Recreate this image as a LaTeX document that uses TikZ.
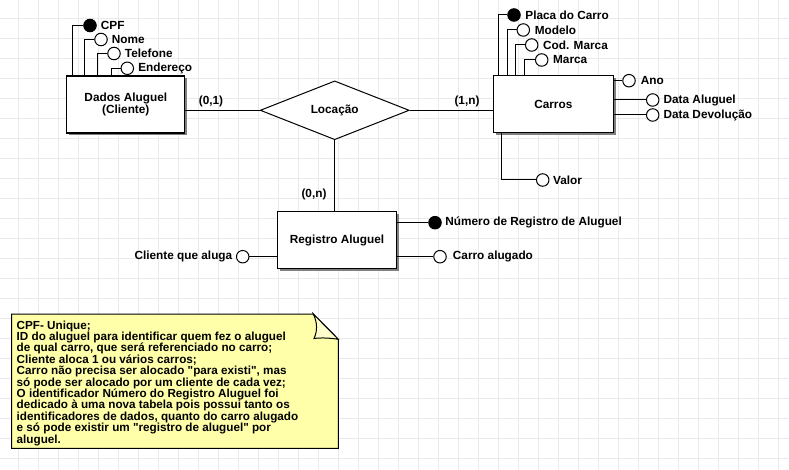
\documentclass[tikz,border=0pt]{standalone}
\usepackage{fontspec}
\setmainfont{Liberation Sans}
\usetikzlibrary{shapes.geometric,shadows}
\definecolor{gridc}{RGB}{234,234,238}
\definecolor{notefill}{RGB}{255,255,170}
\definecolor{foldfill}{RGB}{255,255,205}
\begin{document}
\begin{tikzpicture}[x=1pt,y=-1pt,
  font=\fontsize{11.8}{12.7}\selectfont\bfseries,
  entity/.style={draw, line width=1.3pt, fill=white, minimum width=118pt, minimum height=57pt, align=center, inner sep=0pt,
    drop shadow={shadow xshift=2.5pt, shadow yshift=-2.5pt, fill=black!50, opacity=1}},
  rel/.style={diamond, draw, line width=1pt, fill=white, minimum width=149pt, minimum height=50pt, inner sep=0pt},
  attr/.style={circle, draw, line width=1pt, fill=white, minimum size=12.5pt, inner sep=0pt},
  keyattr/.style={attr, fill=black},
  lbl/.style={inner sep=0pt, anchor=west},
  lblr/.style={inner sep=0pt, anchor=east},
  conn/.style={line width=1pt},
  notetext/.style={inner sep=0pt, anchor=north west, align=left, font=\fontsize{11.7}{11.4}\selectfont\bfseries}
]
\useasboundingbox (0,0) rectangle (789,470);
\fill[white] (0,0) rectangle (789,470);
\foreach \x in {18,38,...,778} \draw[gridc, line width=0.8pt] (\x,0) -- (\x,470);
\foreach \y in {18,38,...,458} \draw[gridc, line width=0.8pt] (0,\y) -- (789,\y);

% entities
\node[entity] (dados) at (125.8,104.5) {Dados Aluguel\\(Cliente)};
\node[entity, minimum width=120pt] (carros) at (553.3,104) {Carros};
\node[entity, minimum width=119.5pt] (reg) at (337,240) {Registro Aluguel};
\node[rel] (loc) at (334.7,110.3) {Locação};

% relation connectors
\draw[conn] (dados.east |- loc.west) -- (loc.west);
\draw[conn] (loc.east) -- (carros.west |- loc.east);
\draw[conn] (loc.south) -- (reg.north -| loc.south);
\node[inner sep=0pt] (c01) at (211,101) {(0,1)};
\node[inner sep=0pt] (c1n) at (467,101) {(1,n)};
\node[inner sep=0pt] (c0n) at (314,194) {(0,n)};

% Dados attributes
\node[keyattr] (cpf) at (90,25.5) {};
\node[attr] (nome) at (101,39.5) {};
\node[attr] (tel) at (114,53.5) {};
\node[attr] (end) at (127.3,68.3) {};
\draw[conn] ([xshift=-53.5pt]dados.north) |- (cpf);
\draw[conn] ([xshift=-41.5pt]dados.north) |- (nome);
\draw[conn] ([xshift=-28.1pt]dados.north) |- (tel);
\draw[conn] ([xshift=-14.1pt]dados.north) |- (end);
\node[lbl] (tcpf) at ([xshift=4pt]cpf.east) {CPF};
\node[lbl] (tnome) at ([xshift=4pt]nome.east) {Nome};
\node[lbl] (ttel) at ([xshift=4pt]tel.east) {Telefone};
\node[lbl] (tend) at ([xshift=4pt]end.east) {Endereço};

% Carros attributes
\node[keyattr] (placa) at (514,15) {};
\node[attr] (modelo) at (523.3,30) {};
\node[attr] (cod) at (531.7,45) {};
\node[attr] (marca) at (541.7,60) {};
\draw[conn] ([xshift=-55pt]carros.north) |- (placa);
\draw[conn] ([xshift=-46pt]carros.north) |- (modelo);
\draw[conn] ([xshift=-37.6pt]carros.north) |- (cod);
\draw[conn] ([xshift=-29pt]carros.north) |- (marca);
\node[lbl] (tplaca) at ([xshift=4.5pt]placa.east) {Placa do Carro};
\node[lbl] (tmodelo) at ([xshift=4.5pt]modelo.east) {Modelo};
\node[lbl] (tcod) at ([xshift=4.5pt]cod.east) {Cod. Marca};
\node[lbl] (tmarca) at ([xshift=4.5pt]marca.east) {Marca};

\node[attr] (ano) at (629,80.7) {};
\node[attr] (dal) at (652.7,100) {};
\node[attr] (ddev) at (652.7,115) {};
\node[attr] (valor) at (542.7,180) {};
\draw[conn] (carros.east |- ano) -- (ano);
\draw[conn] (carros.east |- dal) -- (dal);
\draw[conn] (carros.east |- ddev) -- (ddev);
\draw[conn] ([xshift=-51.6pt]carros.south) |- (valor);
\node[lbl] (tano) at ([xshift=5pt]ano.east) {Ano};
\node[lbl] (tdal) at ([xshift=4pt]dal.east) {Data Aluguel};
\node[lbl] (tddev) at ([xshift=4pt]ddev.east) {Data Devolução};
\node[lbl] (tvalor) at ([xshift=3.5pt]valor.east) {Valor};

% Registro attributes
\node[keyattr] (num) at (435,222.7) {};
\node[attr] (calug) at (440,256.7) {};
\node[attr] (cli) at (242.7,256.7) {};
\draw[conn] (reg.east |- num) -- (num);
\draw[conn] (reg.east |- calug) -- (calug);
\draw[conn] (cli) -- (reg.west |- cli);
\node[lbl] (tnum) at ([xshift=3.5pt]num.east) {Número de Registro de Aluguel};
\node[lbl] (tcalug) at ([xshift=6pt]calug.east) {Carro alugado};
\node[lblr] (tcli) at ([xshift=-3.5pt]cli.west) {Cliente que aluga};

% note
\draw[line width=1pt, fill=notefill] (11.7,314) -- (313.3,314) -- (338.3,339.3) -- (338.3,448.3) -- (11.7,448.3) -- cycle;
\draw[line width=1pt, fill=foldfill] (313.3,314) .. controls (317.5,323) and (317.5,331) .. (314,338.5) .. controls (322,337.5) and (330,338) .. (338.3,339.3) -- cycle;
\node[notetext] (note) at (16.5,320.5) {CPF- Unique;\\
ID do aluguel para identificar quem fez o aluguel\\
de qual carro, que será referenciado no carro;\\
Cliente aloca 1 ou vários carros;\\
Carro não precisa ser alocado \textquotedbl para existi\textquotedbl, mas\\
só pode ser alocado por um cliente de cada vez;\\
O identificador Número do Registro Aluguel foi\\
dedicado à uma nova tabela pois possui tanto os\\
identificadores de dados, quanto do carro alugado\\
e só pode existir um \textquotedbl registro de aluguel\textquotedbl{} por\\
aluguel.};
\end{tikzpicture}
\end{document}
